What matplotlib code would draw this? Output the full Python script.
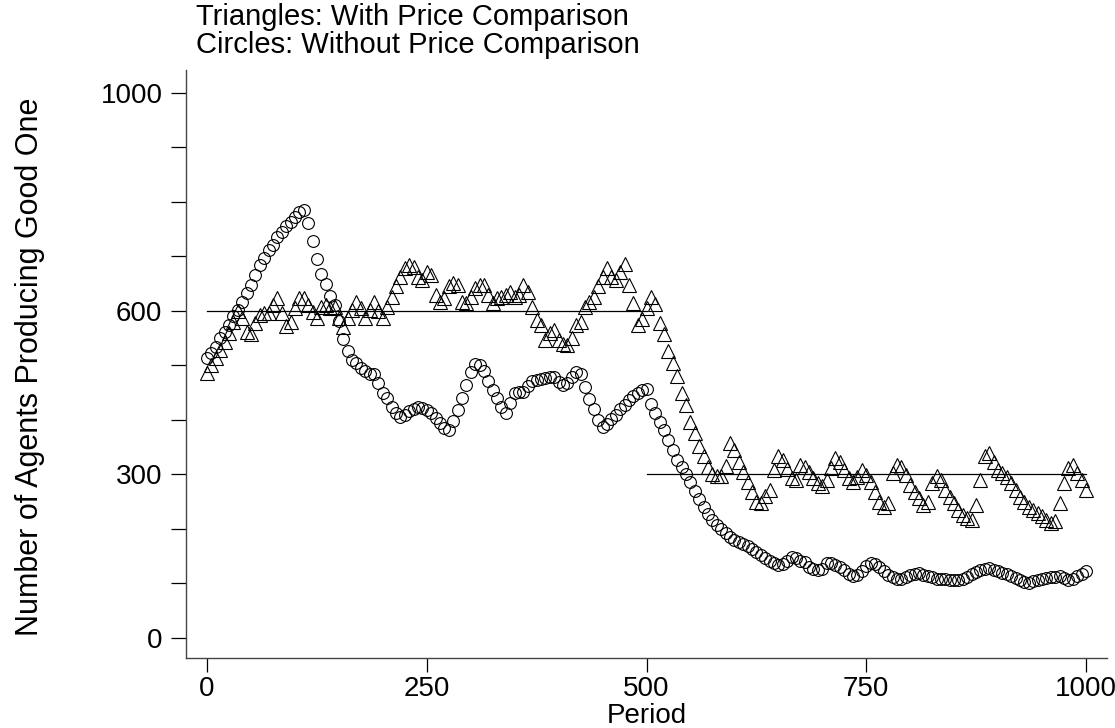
import numpy as np
import matplotlib
matplotlib.use('Agg')
import matplotlib.pyplot as plt

matplotlib.rcParams['font.family'] = ['Liberation Sans', 'DejaVu Sans']
#---------------------------------------------------------------------------------------#
# data (one point every 5 periods)
period = np.arange(0, 1001, 5)

with_comparison = [
    486, 500, 514, 528, 543, 560, 580, 600, 587, 562,
    558, 578, 592, 596, 597, 610, 623, 597, 572, 580,
    605, 623, 624, 611, 598, 587, 607, 611, 605, 608,
    587, 571, 587, 602, 617, 605, 587, 602, 617, 599,
    587, 608, 626, 645, 663, 678, 684, 681, 663, 657,
    672, 666, 629, 617, 623, 645, 651, 648, 617, 614,
    626, 642, 648, 648, 629, 614, 623, 626, 629, 635,
    626, 629, 648, 635, 608, 583, 574, 547, 559, 565,
    547, 540, 538, 550, 574, 580, 608, 617, 626, 645,
    663, 678, 663, 657, 672, 687, 648, 614, 575, 585,
    605, 626, 612, 578, 558, 527, 505, 480, 449, 428,
    397, 376, 353, 333, 314, 301, 298, 297, 316, 357,
    345, 323, 305, 286, 268, 250, 248, 260, 272, 308,
    333, 326, 310, 293, 290, 317, 314, 305, 293, 284,
    278, 290, 311, 330, 323, 308, 293, 287, 296, 308,
    299, 287, 268, 250, 241, 247, 302, 317, 314, 299,
    281, 268, 257, 244, 250, 284, 298, 290, 272, 259,
    247, 235, 226, 220, 217, 244, 290, 333, 339, 323,
    308, 302, 296, 284, 272, 259, 250, 241, 235, 229,
    223, 217, 211, 214, 247, 284, 311, 317, 302, 290,
    272]

without_comparison = [
    513, 522, 533, 550, 562, 574, 590, 602, 617, 632,
    648, 666, 684, 697, 712, 721, 736, 745, 755, 764,
    773, 782, 785, 762, 728, 695, 667, 650, 628, 610,
    582, 548, 527, 510, 505, 495, 490, 485, 484, 468,
    450, 440, 424, 413, 406, 410, 416, 420, 424, 422,
    418, 412, 403, 395, 386, 382, 398, 418, 440, 465,
    488, 503, 501, 490, 472, 455, 440, 424, 413, 432,
    450, 452, 452, 462, 471, 474, 476, 477, 478, 478,
    470, 464, 468, 478, 488, 484, 460, 438, 420, 400,
    387, 392, 402, 410, 420, 428, 436, 444, 450, 455,
    456, 430, 412, 397, 382, 363, 345, 326, 313, 300,
    286, 270, 255, 240, 228, 216, 208, 200, 192, 186,
    180, 176, 173, 168, 163, 158, 152, 146, 141, 137,
    133, 136, 141, 148, 146, 142, 139, 131, 126, 124,
    127, 138, 137, 133, 130, 125, 117, 114, 116, 123,
    132, 137, 135, 130, 122, 116, 111, 108, 109, 112,
    116, 118, 120, 116, 113, 111, 109, 108, 108, 107,
    106, 106, 108, 112, 118, 121, 124, 127, 128, 125,
    122, 119, 117, 114, 110, 106, 103, 101, 104, 106,
    108, 110, 111, 112, 113, 110, 106, 108, 113, 118,
    122]

# equilibrium levels
target_x = [0, 500, 500, 1000]
target_y = [600, 600, 300, 300]

xticks = [0, 250, 500, 750, 1000]
yticks = list(range(0, 1001, 100))
ylabels = [str(v) if v in (0, 300, 600, 1000) else '' for v in yticks]
#---------------------------------------------------------------------------------------#
fig = plt.figure(figsize=(11.15, 7.28), dpi=100)
ax = fig.add_axes([186/1115, 70/728, (1107-186)/1115, (658-70)/728])

ax.plot(target_x[:2], target_y[:2], color='k', lw=0.9)
ax.plot(target_x[2:], target_y[2:], color='k', lw=0.9)

ax.plot(period, with_comparison, ls='none', marker='^', ms=10, mfc='none',
        mec='k', mew=0.8)
ax.plot(period, without_comparison, ls='none', marker='o', ms=8.5, mfc='none',
        mec='k', mew=0.8)

ax.set_xlim(-24, 1024)
ax.set_ylim(-36.7, 1042)
ax.set_xticks(xticks)
ax.set_yticks(yticks)
ax.set_yticklabels(ylabels)
for s in ['top', 'right']:
    ax.spines[s].set_visible(False)
for s in ['left', 'bottom']:
    ax.spines[s].set_color('#444444')
    ax.spines[s].set_linewidth(1.0)
ax.tick_params(axis='y', direction='out', length=11, width=0.9, labelsize=20, pad=6)
ax.tick_params(axis='x', direction='out', length=10, width=0.9, labelsize=20, pad=3)

ax.set_xlabel('Period', fontsize=20, va='top')
ax.xaxis.set_label_coords(0.5, -0.076)
fig.text(30/1115, 1 - 367/728, 'Number of Agents Producing Good One',
         rotation=90, ha='center', va='center', fontsize=22)

fig.text(196/1115, 1 - 3/728, 'Triangles: With Price Comparison\nCircles: Without Price Comparison',
         ha='left', va='top', fontsize=21, linespacing=1.0)

fig.savefig('out.png', dpi=100)
